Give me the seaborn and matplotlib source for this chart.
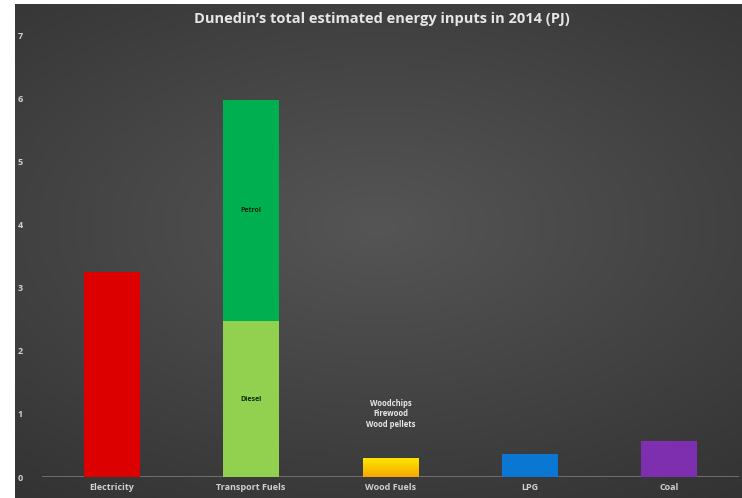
import numpy as np
import pandas as pd
import seaborn as sns
import matplotlib.pyplot as plt
from matplotlib.colors import LinearSegmentedColormap

# values (PJ)
categories = ["Electricity", "Transport Fuels", "Wood Fuels", "LPG", "Coal"]
totals = [3.25, 5.97, 0.30, 0.36, 0.57]
diesel = 2.47
petrol = totals[1] - diesel
bar_colors = ["#DD0000", "#00B050", "#FFD21A", "#0A78D2", "#7E2FB0"]
diesel_color = "#92D050"
wood_labels = ["Woodchips", "Firewood", "Wood pellets"]
y_ticks = [0, 1, 2, 3, 4, 5, 6, 7]

sns.set_theme(style="dark")
plt.rcParams["font.family"] = ["Open Sans", "DejaVu Sans"]

fig = plt.figure(figsize=(7.42, 4.98), dpi=100, facecolor="white")

# dark background with a soft radial highlight
bg = fig.add_axes([15 / 742, 0, 1 - 15 / 742, 494 / 498])
yy, xx = np.mgrid[-1:1:300j, -1:1:400j]
r = np.sqrt((xx * 0.9) ** 2 + ((yy + 0.1) * 1.1) ** 2)
shade = np.clip(1 - r / 1.5, 0, 1)
bg.imshow(shade, cmap=sns.dark_palette("#555555", as_cmap=True), vmin=-0.4, vmax=1,
          aspect="auto", extent=[0, 1, 0, 1])
bg.set_axis_off()

ax = fig.add_axes([42 / 742, 21 / 498, 697 / 742, 442 / 498])
ax.patch.set_alpha(0)

df = pd.DataFrame({"category": categories, "value": totals})
sns.barplot(data=df, x="category", y="value", hue="category", palette=bar_colors,
            width=0.4, legend=False, ax=ax, saturation=1, linewidth=0, edgecolor="none")

# yellow-to-orange fill on the wood fuels bar
wood_bar = ax.patches[2]
x0, w, h = wood_bar.get_x(), wood_bar.get_width(), wood_bar.get_height()
grad = np.linspace(1, 0, 50).reshape(-1, 1)
wood_cmap = LinearSegmentedColormap.from_list("wood", ["#F7A800", "#FFE600"])
im = ax.imshow(grad, cmap=wood_cmap, aspect="auto", extent=[x0, x0 + w, 0, h], zorder=3)
im.set_clip_path(wood_bar)

df_d = pd.DataFrame({"category": categories,
                     "value": [0, diesel, 0, 0, 0]})
sns.barplot(data=df_d, x="category", y="value", color=diesel_color,
            width=0.4, ax=ax, saturation=1, linewidth=0, edgecolor="none")

ax.text(1, diesel + petrol * 0.5, "Petrol", ha="center", va="center",
        fontsize=5, fontweight="bold", color="#0a2a10")
ax.text(1, 1.22, "Diesel", ha="center", va="center",
        fontsize=5, fontweight="bold", color="#0a2a10")
ax.text(2, 1.0, "\n".join(wood_labels), ha="center", va="center",
        fontsize=5.5, fontweight="bold", color="#e8e8e8", linespacing=1.25)

ax.axhline(0, color="#777777", lw=1.2, zorder=0)
ax.set_ylim(0, 7)
ax.set_xlim(-0.5, 4.5)
ax.set_yticks(y_ticks)
ax.tick_params(axis="both", colors="#d0d0d0", labelsize=6.5, length=0)
for lab in ax.get_xticklabels() + ax.get_yticklabels():
    lab.set_fontweight("bold")
ax.tick_params(axis="y", pad=14)
ax.tick_params(axis="x", pad=4)
ax.set_xlabel("")
ax.set_ylabel("")
ax.grid(False)
for s in ax.spines.values():
    s.set_visible(False)

fig.text(0.514, 0.962, "Dunedin\u2019s total estimated energy inputs in 2014 (PJ)",
         ha="center", va="center", fontsize=10.5, fontweight="bold", color="#e6e6e6")

fig.savefig("out.png", dpi=100, facecolor="white")
